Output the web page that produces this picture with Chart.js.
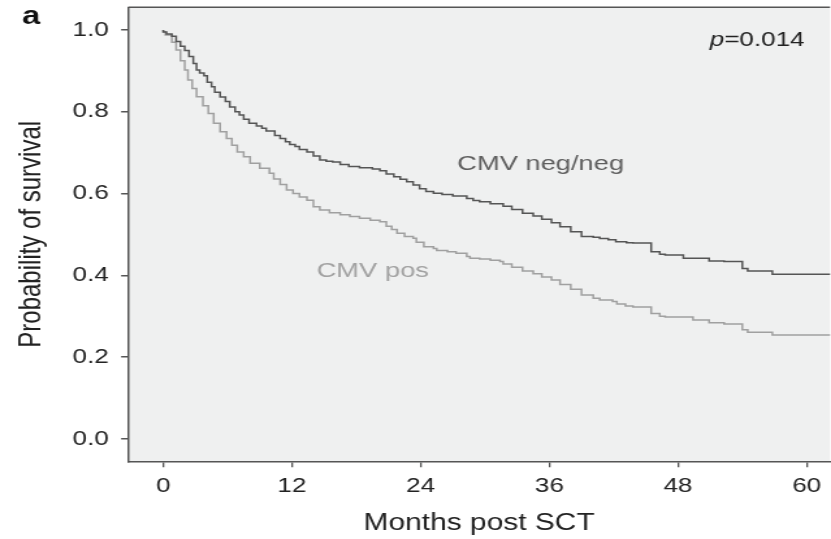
<!DOCTYPE html>
<html>
<head>
<meta charset="utf-8">
<script src="https://cdn.jsdelivr.net/npm/chart.js@4.4.1/dist/chart.umd.min.js"></script>
<style>
  html, body { margin: 0; padding: 0; background: #fff; overflow: hidden; }
  /* the source figure is stretched horizontally, so draw narrow and stretch */
  #wrap { position: absolute; left: 0; top: 0; width: 639px; height: 539px;
          transform: scaleX(1.3005); transform-origin: 0 0; }
</style>
</head>
<body>
<div id="wrap"><canvas id="km"></canvas></div>
<script>
// --- data (months post SCT, probability of survival) ---
const xTicks = [0, 12, 24, 36, 48, 60];
const yTicks = [0, 0.2, 0.4, 0.6, 0.8, 1.0];

const negMonths = [0, 0.3, 0.8, 1.2, 1.6, 2.0, 2.4, 2.8, 3.1, 3.4, 3.8, 4.1, 4.5, 4.8, 5.3, 5.8, 6.2, 6.7, 7.1, 7.5,
  8.0, 8.7, 9.2, 9.6, 10.4, 10.9, 11.4, 11.8, 12.3, 12.7, 13.4, 14.0, 14.6, 15.2, 15.8, 16.5, 17.3, 18.3, 19.5, 20.2,
  20.8, 21.5, 22.1, 22.7, 23.3, 23.9, 24.5, 25.2, 26.0, 27.0, 28.3, 28.9, 29.5, 30.5, 31.7, 32.5, 33.5, 34.5, 35.3, 36.2,
  37.0, 38.0, 39.0, 40.1, 40.7, 41.5, 42.2, 43.2, 43.8, 45.5, 46.3, 46.8, 48.5, 50.9, 52.3, 54.0, 54.5, 56.8, 61.3, 63.0];
const negSurv = [1.0, 0.995, 0.99, 0.985, 0.972, 0.960, 0.950, 0.935, 0.918, 0.902, 0.895, 0.888, 0.872, 0.861, 0.848, 0.836, 0.825, 0.812, 0.800, 0.792,
  0.782, 0.772, 0.765, 0.760, 0.753, 0.742, 0.735, 0.727, 0.720, 0.715, 0.708, 0.702, 0.692, 0.682, 0.679, 0.677, 0.671, 0.666, 0.663, 0.660,
  0.656, 0.648, 0.641, 0.635, 0.629, 0.621, 0.612, 0.605, 0.601, 0.598, 0.594, 0.588, 0.583, 0.580, 0.575, 0.569, 0.561, 0.552, 0.545, 0.537,
  0.529, 0.519, 0.507, 0.495, 0.493, 0.490, 0.487, 0.482, 0.480, 0.479, 0.458, 0.452, 0.450, 0.442, 0.435, 0.434, 0.417, 0.411, 0.403, 0.403];

const posMonths = [0, 0.2, 0.8, 1.2, 1.6, 2.0, 2.3, 2.7, 3.1, 3.7, 4.2, 4.7, 5.3, 5.9, 6.4, 6.9, 7.5, 8.1, 9.0, 9.9,
  10.3, 10.9, 11.5, 12.1, 12.7, 13.4, 14.0, 14.6, 15.5, 16.5, 17.4, 18.3, 19.3, 20.2, 20.8, 21.3, 21.8, 22.5, 23.3, 23.6,
  24.3, 25.2, 25.5, 26.5, 27.3, 28.3, 28.6, 29.5, 30.5, 31.4, 31.7, 32.5, 33.5, 34.5, 35.3, 36.2, 37.0, 38.0, 39.0, 40.1,
  40.7, 41.9, 42.3, 43.1, 43.8, 45.5, 46.3, 46.8, 49.4, 50.9, 52.3, 54.0, 54.5, 56.8, 61.3, 63.0];
const posSurv = [1.0, 0.996, 0.988, 0.970, 0.951, 0.925, 0.902, 0.878, 0.857, 0.837, 0.815, 0.796, 0.772, 0.751, 0.735, 0.718, 0.702, 0.690, 0.674, 0.662,
  0.650, 0.636, 0.622, 0.609, 0.600, 0.592, 0.584, 0.568, 0.560, 0.553, 0.548, 0.544, 0.540, 0.535, 0.531, 0.520, 0.512, 0.503, 0.495, 0.491,
  0.481, 0.470, 0.466, 0.461, 0.458, 0.454, 0.446, 0.442, 0.440, 0.437, 0.434, 0.428, 0.420, 0.411, 0.404, 0.396, 0.389, 0.378, 0.366, 0.352,
  0.344, 0.340, 0.336, 0.330, 0.325, 0.323, 0.307, 0.300, 0.298, 0.291, 0.284, 0.281, 0.267, 0.261, 0.254, 0.254];

const FONT = '"Liberation Sans", Arial, Helvetica, sans-serif';
const AXIS = '#555555';
const TEXT = '#222222';

// panel background + top frame line
const fondo = {
  id: 'fondo',
  beforeDraw(chart) {
    const { ctx, chartArea: a } = chart;
    ctx.save();
    ctx.fillStyle = '#eff0f0';
    ctx.fillRect(a.left, a.top, a.right - a.left, a.bottom - a.top);
    ctx.restore();
  },
  afterDraw(chart) {
    const { ctx, chartArea: a } = chart;
    ctx.save();
    ctx.strokeStyle = AXIS;
    ctx.lineWidth = 1.6;
    ctx.beginPath();
    ctx.moveTo(a.left, a.top);
    ctx.lineTo(a.right, a.top);
    ctx.stroke();
    ctx.restore();
  }
};

// curve labels, p value and panel letter
const rotulos = {
  id: 'rotulos',
  afterDatasetsDraw(chart) {
    const { ctx, scales: { x, y } } = chart;
    ctx.save();
    ctx.textBaseline = 'alphabetic';
    ctx.font = '21px ' + FONT;
    ctx.fillStyle = '#5f5f5f';
    ctx.fillText('CMV neg/neg', x.getPixelForValue(27.4), y.getPixelForValue(0.658));
    ctx.fillStyle = '#a2a2a2';
    ctx.fillText('CMV pos', x.getPixelForValue(14.3), y.getPixelForValue(0.396));

    // p=0.014 with italic p, right aligned
    ctx.fillStyle = TEXT;
    const resto = '=0.014';
    ctx.font = '20px ' + FONT;
    const wResto = ctx.measureText(resto).width;
    ctx.font = 'italic 20px ' + FONT;
    const wP = ctx.measureText('p').width;
    const xr = x.getPixelForValue(59.8);
    const yb = y.getPixelForValue(0.962);
    ctx.fillText('p', xr - wResto - wP, yb);
    ctx.font = '20px ' + FONT;
    ctx.fillText(resto, xr - wResto, yb);

    ctx.font = 'bold 25px ' + FONT;
    ctx.fillStyle = '#111';
    ctx.fillText('a', 17, 24);
    ctx.restore();
  }
};

new Chart(document.getElementById('km'), {
  type: 'line',
  data: {
    datasets: [
      {
        label: 'CMV neg/neg',
        data: negMonths.map((m, i) => ({ x: m, y: negSurv[i] })),
        borderColor: '#555555',
        borderWidth: 1.5,
        pointRadius: 0,
        stepped: 'after',
        fill: false
      },
      {
        label: 'CMV pos',
        data: posMonths.map((m, i) => ({ x: m, y: posSurv[i] })),
        borderColor: '#a0a0a0',
        borderWidth: 1.5,
        pointRadius: 0,
        stepped: 'after',
        fill: false
      }
    ]
  },
  options: {
    responsive: true,
    maintainAspectRatio: false,
    animation: false,
    layout: { padding: { top: 7.3, right: 0, bottom: 0, left: 0 } },
    plugins: { legend: { display: false }, tooltip: { enabled: false } },
    scales: {
      x: {
        type: 'linear',
        min: -3.28,
        max: 62.18,
        afterBuildTicks: s => { s.ticks = xTicks.map(v => ({ value: v })); },
        afterFit: s => { s.height = 77.7; s.paddingLeft = 0; s.paddingRight = 0; },
        grid: { drawOnChartArea: false, drawTicks: true, tickLength: 6, color: AXIS, lineWidth: 1.3 },
        border: { display: true, color: AXIS, width: 1.6 },
        ticks: { color: TEXT, font: { family: FONT, size: 20 }, padding: 7, maxRotation: 0, autoSkip: false },
        title: { display: true, text: 'Months post SCT', color: TEXT, font: { family: FONT, size: 23 }, padding: { top: 0, bottom: 2 } }
      },
      y: {
        type: 'linear',
        min: -0.0545,
        max: 1.0555,
        afterBuildTicks: s => { s.ticks = yTicks.map(v => ({ value: v })); },
        afterFit: s => { s.width = 98.5; s.paddingTop = 0; s.paddingBottom = 0; },
        grid: { drawOnChartArea: false, drawTicks: true, tickLength: 5.4, color: AXIS, lineWidth: 1.5 },
        border: { display: true, color: AXIS, width: 1.5 },
        ticks: { color: TEXT, font: { family: FONT, size: 20 }, padding: 9.5, callback: v => v.toFixed(1) },
        title: { display: true, text: 'Probability of survival', color: TEXT, font: { family: FONT, size: 24 }, padding: { top: 10, bottom: 0 } }
      }
    }
  },
  plugins: [fondo, rotulos]
});
</script>
</body>
</html>
